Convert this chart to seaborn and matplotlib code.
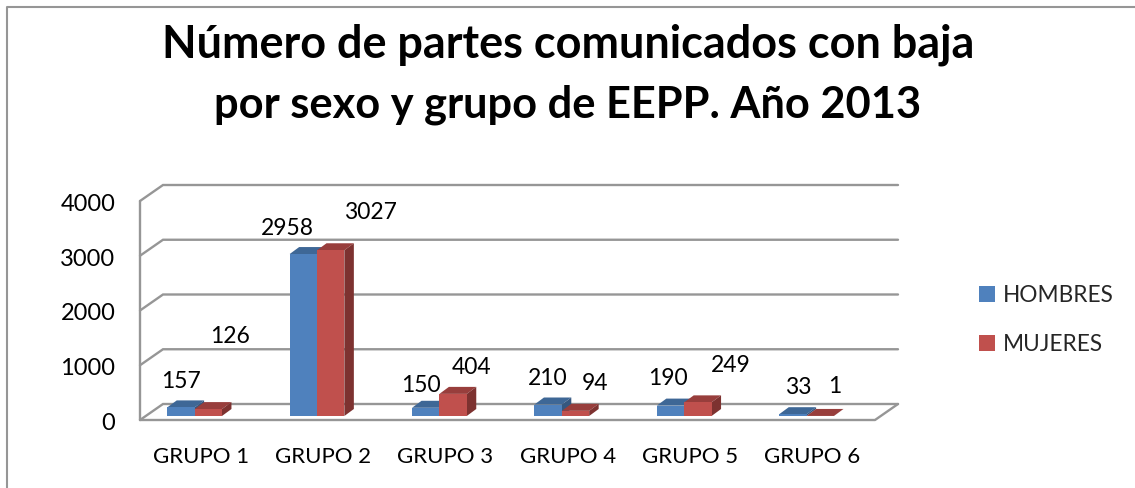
import pandas as pd
import matplotlib
matplotlib.use("Agg")
import matplotlib.pyplot as plt
from matplotlib.lines import Line2D
from matplotlib.patches import Patch, Polygon
from matplotlib.transforms import ScaledTranslation
import seaborn as sns

grupos = ["GRUPO 1", "GRUPO 2", "GRUPO 3", "GRUPO 4", "GRUPO 5", "GRUPO 6"]
hombres = [157, 2958, 150, 210, 190, 33]
mujeres = [126, 3027, 404, 94, 249, 1]
y_ticks = [0, 1000, 2000, 3000, 4000]
title_1 = "Número de partes comunicados con baja"
title_2 = "por sexo y grupo de EEPP. Año 2013"

# label offsets from top of each bar, in pixels (the original has them hand placed)
label_off_h = [(0, 26), (-16, 26), (-5, 22), (0, 26), (-3, 27), (5, 27)]
label_off_m = [(22, 73), (40, 38), (18, 26), (20, 27), (33, 37), (14, 29)]

W, H = 1135, 488
BLUE, BLUE_TOP, BLUE_SIDE = "#4F81BD", "#3E6796", "#35577F"
RED, RED_TOP, RED_SIDE = "#C0504D", "#983E3C", "#7D3230"
GRID = "#969696"

sns.set_theme(style="white")
plt.rcParams["font.family"] = ["Lato", "DejaVu Sans"]

fig = plt.figure(figsize=(W / 100, H / 100), dpi=100)
# plane of the bar fronts, in pixels
left, right, bottom, top = 133.4, 867.8, 416, 197
ax = fig.add_axes([left / W, 1 - bottom / H, (right - left) / W, (bottom - top) / H])

df = pd.DataFrame({
    "grupo": grupos * 2,
    "sexo": ["HOMBRES"] * 6 + ["MUJERES"] * 6,
    "valor": hombres + mujeres,
})
sns.barplot(data=df, x="grupo", y="valor", hue="sexo", palette=[BLUE, RED],
            width=0.447, gap=0, saturation=1, legend=False, ax=ax)
ax.set_xlim(-0.5, 5.5)
ax.set_ylim(0, 4000)
ax.set_xlabel("")
ax.set_ylabel("")
sns.despine(ax=ax, left=True, bottom=True)
ax.patch.set_alpha(0)

px_x = 6 / (right - left)          # one pixel in x data units
px_y = 4000 / (bottom - top)       # one pixel in y data units

# walls and floor
for t in y_ticks:
    xs = [left + 6.6, left + 29.6, right + 30.2]
    xs = [-0.5 + (x - left) * px_x for x in xs]
    ys = [t - 4 * px_y, t + 12 * px_y, t + 12 * px_y]
    ax.plot(xs, ys, color=GRID, lw=1.7, clip_on=False, zorder=0.5, solid_joinstyle="miter")
x_front_l = -0.5 + 6.6 * px_x
x_front_r = 5.5 + 7.2 * px_x
x_back_r = 5.5 + 30.2 * px_x
ax.plot([x_front_l, x_front_l], [-4 * px_y, 4000 - 4 * px_y], color=GRID, lw=1.7, clip_on=False, zorder=0.5)
ax.plot([x_front_l, x_front_r, x_back_r], [-4 * px_y, -4 * px_y, 12 * px_y],
        color=GRID, lw=1.7, clip_on=False, zorder=0.5)

# fake 3d on the bars
depth_x, depth_y = 9.5 * px_x, 7 * px_y
styles = [(BLUE_TOP, BLUE_SIDE, hombres, label_off_h), (RED_TOP, RED_SIDE, mujeres, label_off_m)]
for n, (cont, (c_top, c_side, vals, offs)) in enumerate(zip(ax.containers, styles)):
    for bar, val, off in zip(cont.patches, vals, offs):
        x0 = bar.get_x()
        x1 = x0 + bar.get_width()
        h = bar.get_height()
        bar.set_zorder(3 + 2 * n)
        bar.set_linewidth(0)
        ax.add_patch(Polygon([(x0, h), (x1, h), (x1 + depth_x, h + depth_y), (x0 + depth_x, h + depth_y)],
                             closed=True, fc=c_top, lw=0, clip_on=False, zorder=2 + 2 * n))
        ax.add_patch(Polygon([(x1, 0), (x1, h), (x1 + depth_x, h + depth_y), (x1 + depth_x, depth_y)],
                             closed=True, fc=c_side, lw=0, clip_on=False, zorder=2 + 2 * n))
        ax.annotate(str(val), xy=((x0 + x1) / 2, h), xytext=off, textcoords="offset pixels",
                    ha="center", va="center", fontsize=16.5, color="black", zorder=10,
                    annotation_clip=False)

# tick labels sit on the front plane, not the bar plane
ax.set_yticks(y_ticks)
ax.set_yticklabels([str(t) for t in y_ticks])
ax.set_xticks(range(len(grupos)))
ax.set_xticklabels(grupos)
ax.tick_params(axis="y", length=0, pad=13, labelsize=17, labelcolor="black")
ax.tick_params(axis="x", length=0, pad=22, labelsize=16, labelcolor="black")
for lab in ax.get_yticklabels():
    lab.set_transform(lab.get_transform() + ScaledTranslation(0, -5.5 / 100, fig.dpi_scale_trans))
for lab in ax.get_xticklabels():
    lab.set_transform(lab.get_transform() + ScaledTranslation(6 / 100, 0, fig.dpi_scale_trans))

handles = [Patch(fc=BLUE, lw=0), Patch(fc=RED, lw=0)]
fig.legend(handles, ["HOMBRES", "MUJERES"], loc="center left",
           bbox_to_anchor=(959 / W, 1 - 320 / H), frameon=False, fontsize=16.3,
           handlelength=0.68, handleheight=0.68, handletextpad=0.36, labelspacing=1.25)

fig.text(568 / W, 1 - 45 / H, title_1, ha="center", va="center", fontsize=32.4,
         fontweight="bold", color="black")
fig.text(568 / W, 1 - 105 / H, title_2, ha="center", va="center", fontsize=31.2,
         fontweight="bold", color="black")

# chart frame, only left and top fall inside the picture
fig.add_artist(Line2D([6.5 / W, 6.5 / W, 1], [0, 1 - 7 / H, 1 - 7 / H], color=GRID, lw=1.5))

fig.savefig("out.png", dpi=100)
